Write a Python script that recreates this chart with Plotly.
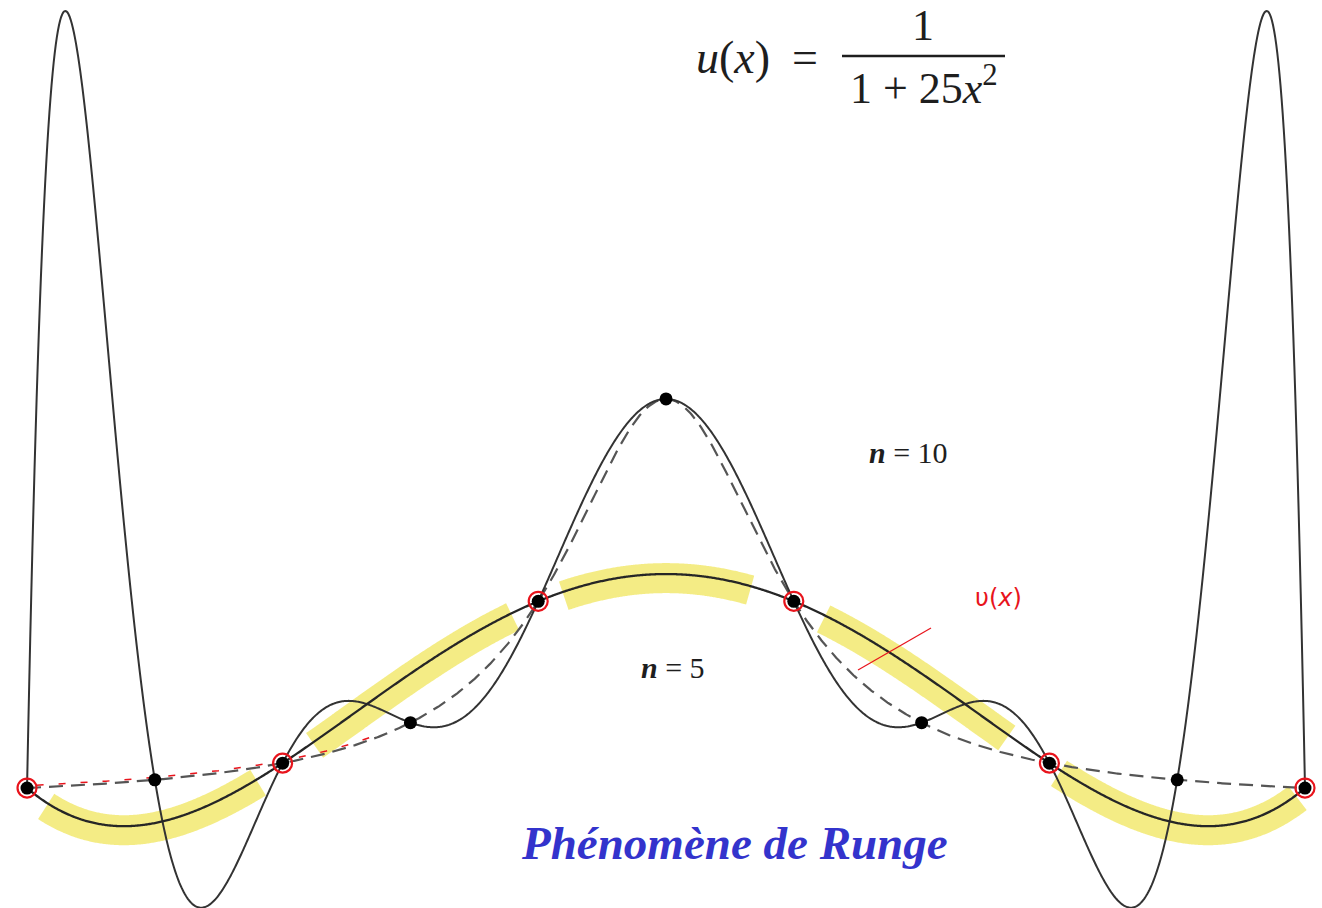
import numpy as np
import plotly.graph_objects as go

# Interpolation nodes and the values of u at those nodes
nodes_n10 = [-1.0, -0.8, -0.6, -0.4, -0.2, 0.0, 0.2, 0.4, 0.6, 0.8, 1.0]
values_n10 = [0.03846, 0.05882, 0.1, 0.2, 0.5, 1.0, 0.5, 0.2, 0.1, 0.05882, 0.03846]
nodes_n5 = [-1.0, -0.6, -0.2, 0.2, 0.6, 1.0]
values_n5 = [0.03846, 0.1, 0.5, 0.5, 0.1, 0.03846]

# Stretches of the n = 5 curve marked with a highlighter
highlight_spans = [(-0.970, -0.637), (-0.551, -0.239), (-0.161, 0.133),
                   (0.246, 0.535), (0.615, 0.989)]

xs = np.linspace(-1.0, 1.0, 1201)
u_true = 1.0 / (1.0 + 25.0 * xs ** 2)          # u(x) = 1 / (1 + 25 x^2)


def interpolant(xn, yn, x):
    coeffs = np.polyfit(np.array(xn), np.array(yn), len(xn) - 1)
    return np.polyval(coeffs, x)


p10 = interpolant(nodes_n10, values_n10, xs)
p5 = interpolant(nodes_n5, values_n5, xs)

fig = go.Figure()

# highlighter strokes under the n = 5 curve
for a, b in highlight_spans:
    m = (xs >= a) & (xs <= b)
    fig.add_trace(go.Scatter(x=xs[m], y=p5[m] - 0.01, mode="lines",
                             line=dict(color="rgba(243,234,120,0.9)", width=30, simplify=False),
                             hoverinfo="skip"))

# the function itself, dashed
fig.add_trace(go.Scatter(x=xs, y=u_true, mode="lines",
                         line=dict(color="#555555", width=2.2, dash="14px,8px"),
                         hoverinfo="skip"))

# red pen dashes along the left part of u
m = (xs >= -0.985) & (xs <= -0.45)
fig.add_trace(go.Scatter(x=xs[m], y=1.0 / (1.0 + 25.0 * xs[m] ** 2) + 0.006, mode="lines",
                         line=dict(color="#e8141c", width=1.5, dash="7px,15px"),
                         hoverinfo="skip"))

# interpolating polynomials
fig.add_trace(go.Scatter(x=xs, y=p10, mode="lines",
                         line=dict(color="#333333", width=2.0, simplify=False), hoverinfo="skip"))
fig.add_trace(go.Scatter(x=xs, y=p5, mode="lines",
                         line=dict(color="#262626", width=2.3, simplify=False), hoverinfo="skip"))

# nodes
fig.add_trace(go.Scatter(x=nodes_n10, y=values_n10, mode="markers",
                         marker=dict(color="black", size=13), hoverinfo="skip"))
fig.add_trace(go.Scatter(x=nodes_n5, y=values_n5, mode="markers",
                         marker=dict(symbol="circle-open", color="#e8141c", size=19,
                                     line=dict(width=2.2)), hoverinfo="skip"))

W, H = 1322, 908


def px(x):
    return x / W


def py(y):
    return 1 - y / H


serif = "Liberation Serif"
ink = "#1e1e1e"
ann = [
    dict(x=px(733), y=py(58), text="<i>u</i>(<i>x</i>)", font=dict(family=serif, size=46, color=ink)),
    dict(x=px(805), y=py(58), text="=", font=dict(family=serif, size=46, color=ink)),
    dict(x=px(923), y=py(25), text="1", font=dict(family=serif, size=44, color=ink)),
    dict(x=px(924), y=py(86), text="1 + 25<i>x</i><sup>2</sup>", font=dict(family=serif, size=44, color=ink)),
    dict(x=px(908), y=py(452), text="<i><b>n</b></i> = 10", font=dict(family=serif, size=30, color=ink)),
    dict(x=px(673), y=py(667), text="<i><b>n</b></i> = 5", font=dict(family=serif, size=30, color=ink)),
    dict(x=px(734), y=py(843), text="<b><i>Phénomène de Runge</i></b>",
         font=dict(family=serif, size=47, color="#3333cc")),
    dict(x=px(998), y=py(598), text="υ(<i>x</i>)", font=dict(family="DejaVu Sans", size=24, color="#e8141c")),
]
for a in ann:
    a.update(xref="paper", yref="paper", showarrow=False, xanchor="center", yanchor="middle")

shapes = [
    # fraction bar
    dict(type="line", xref="paper", yref="paper", x0=px(842), x1=px(1005), y0=py(56), y1=py(56),
         line=dict(color=ink, width=2.4)),
    # red pointer stroke
    dict(type="line", xref="paper", yref="paper", x0=px(931), x1=px(858), y0=py(628), y1=py(670),
         line=dict(color="#e8141c", width=1.2)),
]

fig.update_layout(
    width=W, height=H,
    margin=dict(l=0, r=0, t=0, b=0),
    paper_bgcolor="white", plot_bgcolor="white",
    showlegend=False,
    xaxis=dict(range=[-1.0423, 1.0266], visible=False, fixedrange=True),
    yaxis=dict(range=[-0.258, 1.986], visible=False, fixedrange=True),
    annotations=ann,
    shapes=shapes,
)

fig.write_html("out.html")
